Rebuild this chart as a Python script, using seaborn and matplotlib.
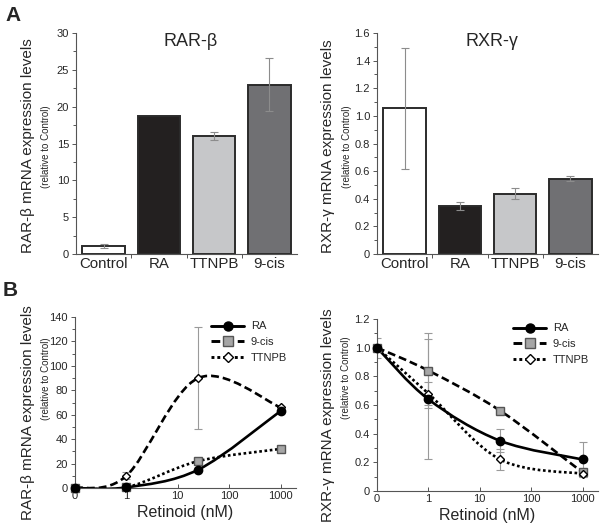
import numpy as np
import matplotlib
matplotlib.use('Agg')
import matplotlib.pyplot as plt
import seaborn as sns
from matplotlib.path import Path
from matplotlib.patches import PathPatch
from matplotlib.lines import Line2D
from matplotlib.ticker import AutoMinorLocator, FixedLocator, NullFormatter

# ---- panel A: bar data ----
treatments = ['Control', 'RA', 'TTNPB', '9-cis']
rarb_bar = [1.1, 18.7, 16.0, 23.0]
rarb_bar_err = [0.3, 0.0, 0.5, 3.6]
rxrg_bar = [1.055, 0.345, 0.435, 0.545]
rxrg_bar_err = [0.44, 0.03, 0.04, 0.02]
bar_colors = ['#ffffff', '#231f20', '#c6c7c9', '#707073']

# ---- panel B: dose response ----
dose_nm = [0, 1, 25, 1000]
dose_ticks = [0, 1, 10, 100, 1000]
rarb_ra = [0, 0.5, 15, 63]
rarb_9cis = [0, 0.5, 22, 32]
rarb_ttnpb = [0, 10, 90, 66]
rarb_ttnpb_err = [0, 3, 42, 0]
rxrg_ra = [1.0, 0.64, 0.35, 0.22]
rxrg_9cis = [1.0, 0.84, 0.56, 0.13]
rxrg_ttnpb = [1.0, 0.68, 0.22, 0.12]
rxrg_ra_err = [0.07, 0.42, 0.08, 0.12]
rxrg_9cis_err = [0.0, 0.26, 0.02, 0.02]
rxrg_ttnpb_err = [0.0, 0.08, 0.07, 0.02]

sns.set_style('ticks')
plt.rcParams['font.family'] = ['Liberation Sans', 'DejaVu Sans']

W, H = 600, 530
LW = 1.9
fig = plt.figure(figsize=(6, 5.3), dpi=100)


def px_axes(x0, x1, y0, y1):
    return fig.add_axes([x0 / W, 1 - y1 / H, (x1 - x0) / W, (y1 - y0) / H])


def draw_err(ax, x, y, err, color, **kw):
    # skip points without a visible error bar
    keep = [i for i, e in enumerate(err) if e > 0]
    ax.errorbar([x[i] for i in keep], [y[i] for i in keep], yerr=[err[i] for i in keep],
                fmt='none', ecolor=color, elinewidth=0.8, capsize=3, capthick=0.8, **kw)


def smooth_line(ax, x, y, **kw):
    # excel-style smoothed line drawn as bezier path in scale space
    tr = ax.xaxis.get_transform()
    u = tr.transform(np.asarray(x, float).reshape(-1, 1)).ravel()
    pts = np.column_stack([u, np.asarray(y, float)])
    ext = np.vstack([pts[0], pts, pts[-1]])
    verts = [pts[0]]
    codes = [Path.MOVETO]
    for i in range(len(pts) - 1):
        p0, p1, p2, p3 = ext[i], ext[i + 1], ext[i + 2], ext[i + 3]
        verts += [p1 + (p2 - p0) / 6, p2 - (p3 - p1) / 6, p2]
        codes += [Path.CURVE4] * 3
    verts = np.array(verts)
    verts[:, 0] = tr.inverted().transform(verts[:, 0].reshape(-1, 1)).ravel()
    ax.add_patch(PathPatch(Path(verts, codes), fill=False, transform=ax.transData, **kw))


def style_spines(ax):
    sns.despine(ax=ax)
    for s in ax.spines.values():
        s.set_linewidth(0.8)
        s.set_color('#555555')


def bar_panel(ax, vals, errs, ymax, ystep, title):
    sns.barplot(x=treatments, y=vals, hue=treatments, palette=bar_colors, legend=False,
                width=0.77, edgecolor='#2b2b2b', linewidth=1.4, ax=ax)
    draw_err(ax, list(range(4)), vals, errs, '#8c8c8c')
    ax.set_xlim(-0.5, 3.5)
    ax.set_ylim(0, ymax)
    ax.set_yticks(np.arange(0, ymax + ystep / 2, ystep))
    ax.yaxis.set_minor_locator(AutoMinorLocator(2))
    ax.xaxis.set_minor_locator(FixedLocator([0.5, 1.5, 2.5]))
    ax.tick_params(axis='x', which='major', length=0, labelsize=10.8, pad=2)
    ax.tick_params(axis='x', which='minor', length=3, width=0.7, color='#555555')
    ax.tick_params(axis='y', which='both', labelsize=8, width=0.7, color='#555555', pad=2)
    ax.tick_params(axis='y', which='major', length=3)
    ax.tick_params(axis='y', which='minor', length=2)
    ax.set_xlabel('')
    ax.set_ylabel('')
    ax.text(0.52, 1.0, title, transform=ax.transAxes, ha='center', va='top', fontsize=13)
    style_spines(ax)


def dose_panel(ax, series, ymax, ystep):
    ax.set_xscale('symlog', linthresh=1, linscale=0.9)
    ax.set_xlim(0, 2000)
    ax.set_ylim(0, ymax)
    for vals, errs, ls, mk, mfc, mec, ms in series:
        if errs is not None:
            draw_err(ax, dose_nm, vals, errs, '#9a9a9a', zorder=1)
        smooth_line(ax, dose_nm, vals, edgecolor='black', linewidth=LW, linestyle=ls,
                    capstyle='butt', zorder=2)
        ax.plot(dose_nm, vals, ls='none', marker=mk, ms=ms, mfc=mfc, mec=mec, mew=1.0,
                zorder=3, clip_on=False)
    ax.set_xticks(dose_ticks)
    ax.set_xticklabels([str(d) for d in dose_ticks])
    ax.xaxis.set_minor_formatter(NullFormatter())
    ax.set_yticks(np.arange(0, ymax + ystep / 2, ystep))
    ax.yaxis.set_minor_locator(AutoMinorLocator(2))
    ax.tick_params(axis='both', which='both', labelsize=8, width=0.7, color='#555555', pad=2)
    ax.tick_params(axis='x', which='both', direction='in')
    ax.tick_params(axis='both', which='major', length=3)
    ax.tick_params(axis='both', which='minor', length=2)
    ax.set_xlabel('Retinoid (nM)', fontsize=11.5, labelpad=3)
    style_spines(ax)
    handles = [
        Line2D([], [], color='black', lw=LW + 0.2, ls='-', marker='o', ms=6.5, mfc='black', mec='black'),
        Line2D([], [], color='black', lw=LW + 0.2, ls=(0, (3, 1.5)), marker='s', ms=6.5, mfc='#a6a6a6', mec='#555555'),
        Line2D([], [], color='black', lw=LW + 0.2, ls=(0, (1, 1)), marker='D', ms=5, mfc='white', mec='black'),
    ]
    ax.legend(handles, ['RA', '9-cis', 'TTNPB'], loc='upper right', frameon=False,
              fontsize=8, handlelength=3.0, handletextpad=0.6, labelspacing=0.5,
              borderaxespad=0.0, bbox_to_anchor=(0.98, 1.0))


# ---- panel A ----
ax1 = px_axes(76, 297, 33, 254)
bar_panel(ax1, rarb_bar, rarb_bar_err, 30, 5, 'RAR-β')
ax2 = px_axes(377, 598, 33, 254)
bar_panel(ax2, rxrg_bar, rxrg_bar_err, 1.6, 0.2, 'RXR-γ')
ax2.set_yticklabels(['0'] + ['%.1f' % v for v in np.arange(0.2, 1.61, 0.2)])

# ---- panel B ----
dashed = (0, (3, 1.5))
dotted = (0, (1, 1))
ax3 = px_axes(75, 296, 317, 488)
dose_panel(ax3, [
    (rarb_9cis, None, dotted, 's', '#a6a6a6', '#555555', 6),
    (rarb_ttnpb, rarb_ttnpb_err, dashed, 'D', 'white', 'black', 4.5),
    (rarb_ra, None, '-', 'o', 'black', 'black', 6),
], 140, 20)
ax4 = px_axes(377, 598, 319, 491)
dose_panel(ax4, [
    (rxrg_9cis, rxrg_9cis_err, dashed, 's', '#a6a6a6', '#555555', 6),
    (rxrg_ttnpb, rxrg_ttnpb_err, dotted, 'D', 'white', 'black', 4.5),
    (rxrg_ra, rxrg_ra_err, '-', 'o', 'black', 'black', 6),
], 1.2, 0.2)
ax4.set_yticklabels(['0'] + ['%.1f' % v for v in np.arange(0.2, 1.21, 0.2)])


# ---- y labels (two lines, different sizes) ----
def ylab(xm, xs, ym, ys, gene):
    fig.text(xm / W, 1 - ym / H, gene + ' mRNA expression levels', rotation=90,
             ha='center', va='center', fontsize=11)
    fig.text(xs / W, 1 - ys / H, '(relative to Control)', rotation=90,
             ha='center', va='center', fontsize=7)


ylab(28, 46, 146, 147, 'RAR-β')
ylab(328, 347, 146, 147, 'RXR-γ')
ylab(28, 46, 413, 379, 'RAR-β')
ylab(328, 346, 415, 378, 'RXR-γ')

fig.text(5 / W, 1 - 6 / H, 'A', fontsize=15, fontweight='bold', ha='left', va='top')
fig.text(3 / W, 1 - 281 / H, 'B', fontsize=15, fontweight='bold', ha='left', va='top')

fig.savefig('out.png', dpi=100)
